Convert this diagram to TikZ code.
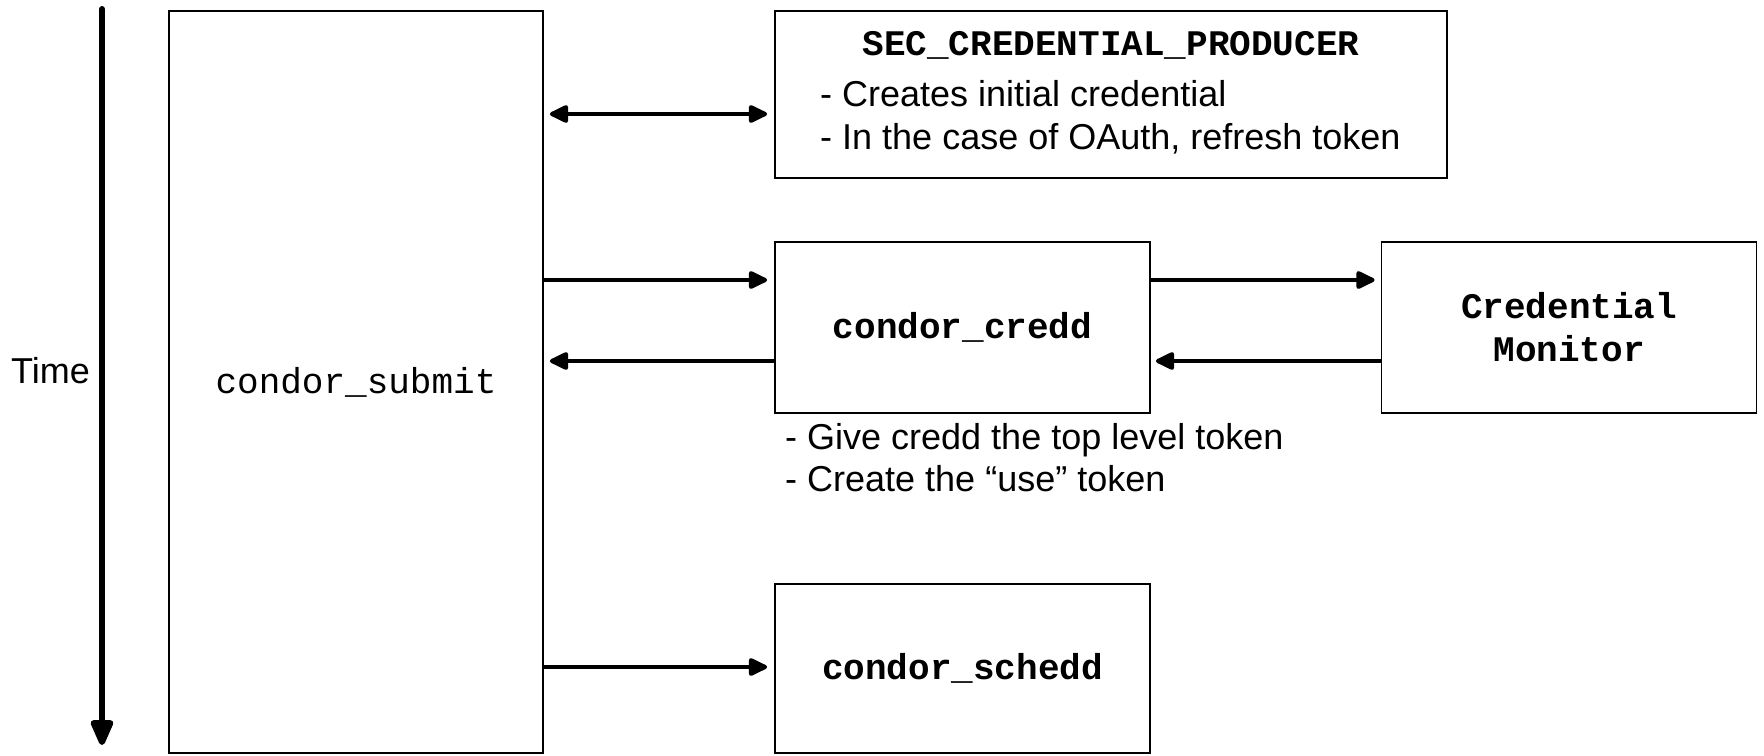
\documentclass[tikz,border=0pt]{standalone}
\usepackage{fontspec}
\setmainfont{Liberation Sans}
\setmonofont{Liberation Mono}
\usetikzlibrary{arrows.meta}
\begin{document}
\begin{tikzpicture}[x=1pt,y=-1pt,
  box/.style={draw, line width=1.8pt, inner sep=0pt},
  arr/.style={line width=4pt, -{Triangle[length=21pt,width=19pt,round]}},
  darr/.style={line width=4pt, {Triangle[length=21pt,width=19pt,round]}-{Triangle[length=21pt,width=19pt,round]}},
  mono/.style={font=\fontsize{36}{43}\selectfont\ttfamily},
  monob/.style={font=\fontsize{36}{43}\selectfont\ttfamily\bfseries, align=center},
  sans/.style={font=\fontsize{36}{42.5}\selectfont, align=left, inner sep=0pt}]
\useasboundingbox (0,0) rectangle (1764,755);
% time axis
\node[font=\fontsize{36}{40}\selectfont, anchor=east, inner sep=0pt] (time) at (90,371) {Time};
\coordinate (tt) at (102,9);
\coordinate (tb) at (102,745);
\draw[line width=6pt, line cap=round, -{Triangle[length=30pt,width=24pt,round]}] (tt) -- (tb);
% boxes
\node[box, mono, minimum width=374pt, minimum height=742pt] (sub) at (356,382) {condor\_submit};
\node[box, minimum width=672pt, minimum height=167pt] (sec) at (1111,94.5) {};
\node[monob] (sectitle) at (1111,45) {SEC\_CREDENTIAL\_PRODUCER};
\node[sans, anchor=west] (secnote) at (820,117.5) {- Creates initial credential\\- In the case of OAuth, refresh token};
\node[box, monob, minimum width=375pt, minimum height=171pt] (credd) at (962.5,327.5) {condor\_credd};
\node[box, monob, minimum width=375pt, minimum height=171pt] (mon) at (1569,327.5) {Credential\\Monitor};
\node[sans, anchor=west] (crednote) at (785,457.5) {- Give credd the top level token\\- Create the “use” token};
\node[box, monob, minimum width=375pt, minimum height=169pt] (schedd) at (962.5,668.5) {condor\_schedd};
% connectors
\draw[darr, shorten <=6pt, shorten >=7pt] (sub.east |- 0,114) -- (sec.west |- 0,114);
\draw[arr, shorten >=7pt] (sub.east |- 0,280) -- (credd.west |- 0,280);
\draw[arr, shorten >=6pt] (credd.west |- 0,361) -- (sub.east |- 0,361);
\draw[arr, shorten >=6pt] (credd.east |- 0,280) -- (mon.west |- 0,280);
\draw[arr, shorten >=5pt] (mon.west |- 0,361) -- (credd.east |- 0,361);
\draw[arr, shorten >=7pt] (sub.east |- 0,667) -- (schedd.west |- 0,667);
\end{tikzpicture}
\end{document}
